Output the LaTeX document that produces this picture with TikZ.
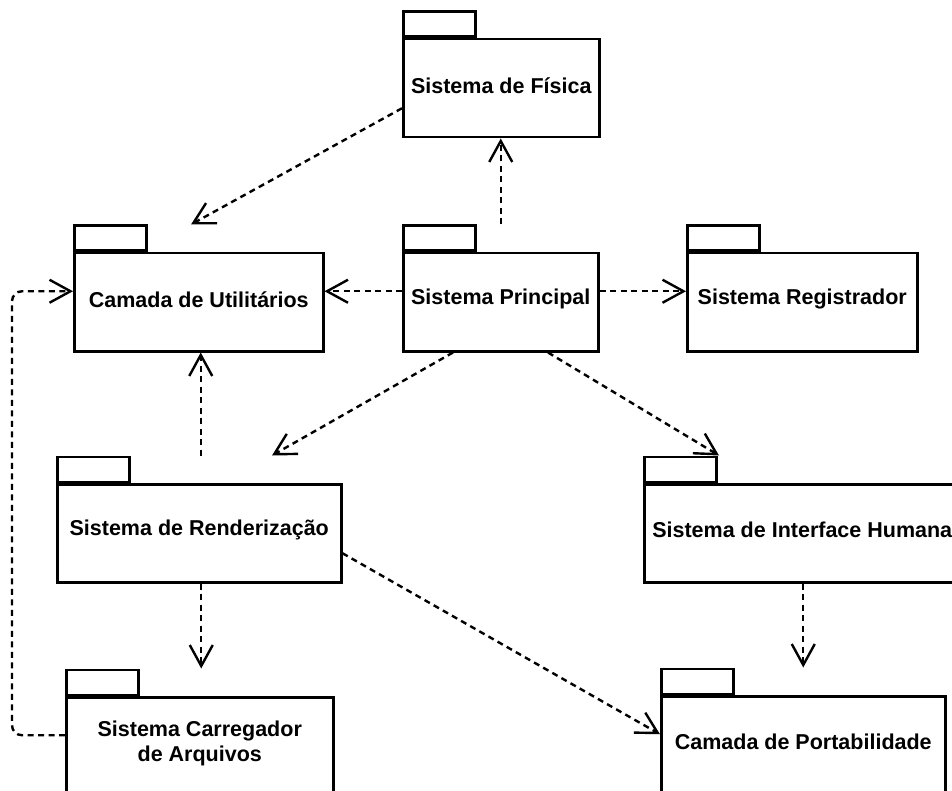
\documentclass[tikz,border=0pt]{standalone}
\usepackage{fontspec}
\setmainfont{Liberation Sans}
\usetikzlibrary{arrows.meta,calc}

\tikzset{
  pkgbody/.style={draw, line width=2.5pt, inner sep=0pt, anchor=north west,
    minimum height=98pt},
  pkgtab/.style={draw, line width=2.5pt, inner sep=0pt, anchor=south west,
    minimum width=72pt, minimum height=25pt},
  pkgtext/.style={inner sep=0pt, align=center,
    font=\bfseries\fontsize{21.5}{25}\selectfont},
  dep/.style={line width=2.4pt, dash pattern=on 6pt off 4.5pt,
    -{Straight Barb[length=21pt,width=23pt]}},
}

% UML package: body #1, tab #1-tab on its upper left, name #1-name
\newcommand\umlpackage[5]{%
  \node[pkgbody, minimum width=#4] (#1) at (#2,#3) {};
  \node[pkgtab] (#1-tab) at (#1.north west) {};
  \node[pkgtext] (#1-name) at ([yshift=3pt]#1.center) {#5};
}

\begin{document}
\begin{tikzpicture}[x=1pt,y=-1pt]
  \useasboundingbox (0,0) rectangle (952,791);
  \clip (0,0) rectangle (952,791);

  \umlpackage{fis}{402}{38}{196}{Sistema de Física}
  \umlpackage{uti}{73}{252}{249}{Camada de Utilitários}
  \umlpackage{pri}{402}{252}{195}{Sistema Principal}
  \umlpackage{reg}{686}{252}{230}{Sistema Registrador}
  \umlpackage{ren}{56}{483}{284}{Sistema de Renderização}
  \umlpackage{hum}{643}{483}{316}{Sistema de Interface Humana}
  \umlpackage{car}{65}{696}{267}{Sistema Carregador\\de Arquivos}
  \umlpackage{por}{660}{695}{284}{Camada de Portabilidade}

  % dependencies
  \draw[dep] (pri.center |- pri-tab.north) -- (pri.center |- fis.south);
  \draw[dep] ([yshift=11pt]pri.west) -- ([yshift=11pt]uti.east);
  \draw[dep] ([yshift=11pt]pri.east) -- ([yshift=11pt]reg.west);
  \draw[dep] ([yshift=-20pt]fis.west) -- ([xshift=118pt]uti-tab.north west);
  \draw[dep] ([xshift=51pt]pri.south west) -- ([xshift=216pt]ren-tab.north west);
  \draw[dep] ([xshift=146pt]pri.south west) -- ([xshift=76pt]hum-tab.north west);
  \draw[dep] ([xshift=2pt]uti.south |- ren-tab.north) -- ([xshift=2pt]uti.south);
  \draw[dep] ([xshift=2pt]ren.south) -- ([xshift=2pt]ren.south |- car-tab.north);
  \draw[dep] ([yshift=-20pt]ren.east) -- ([yshift=11pt]por.west);
  \draw[dep] (por.center |- hum.south) -- (por.center |- por-tab.north);
  \draw[dep, rounded corners=10pt] ([yshift=11pt]car.west)
    -| ([xshift=-61pt,yshift=11pt]uti.west) -- ([yshift=11pt]uti.west);
\end{tikzpicture}
\end{document}
